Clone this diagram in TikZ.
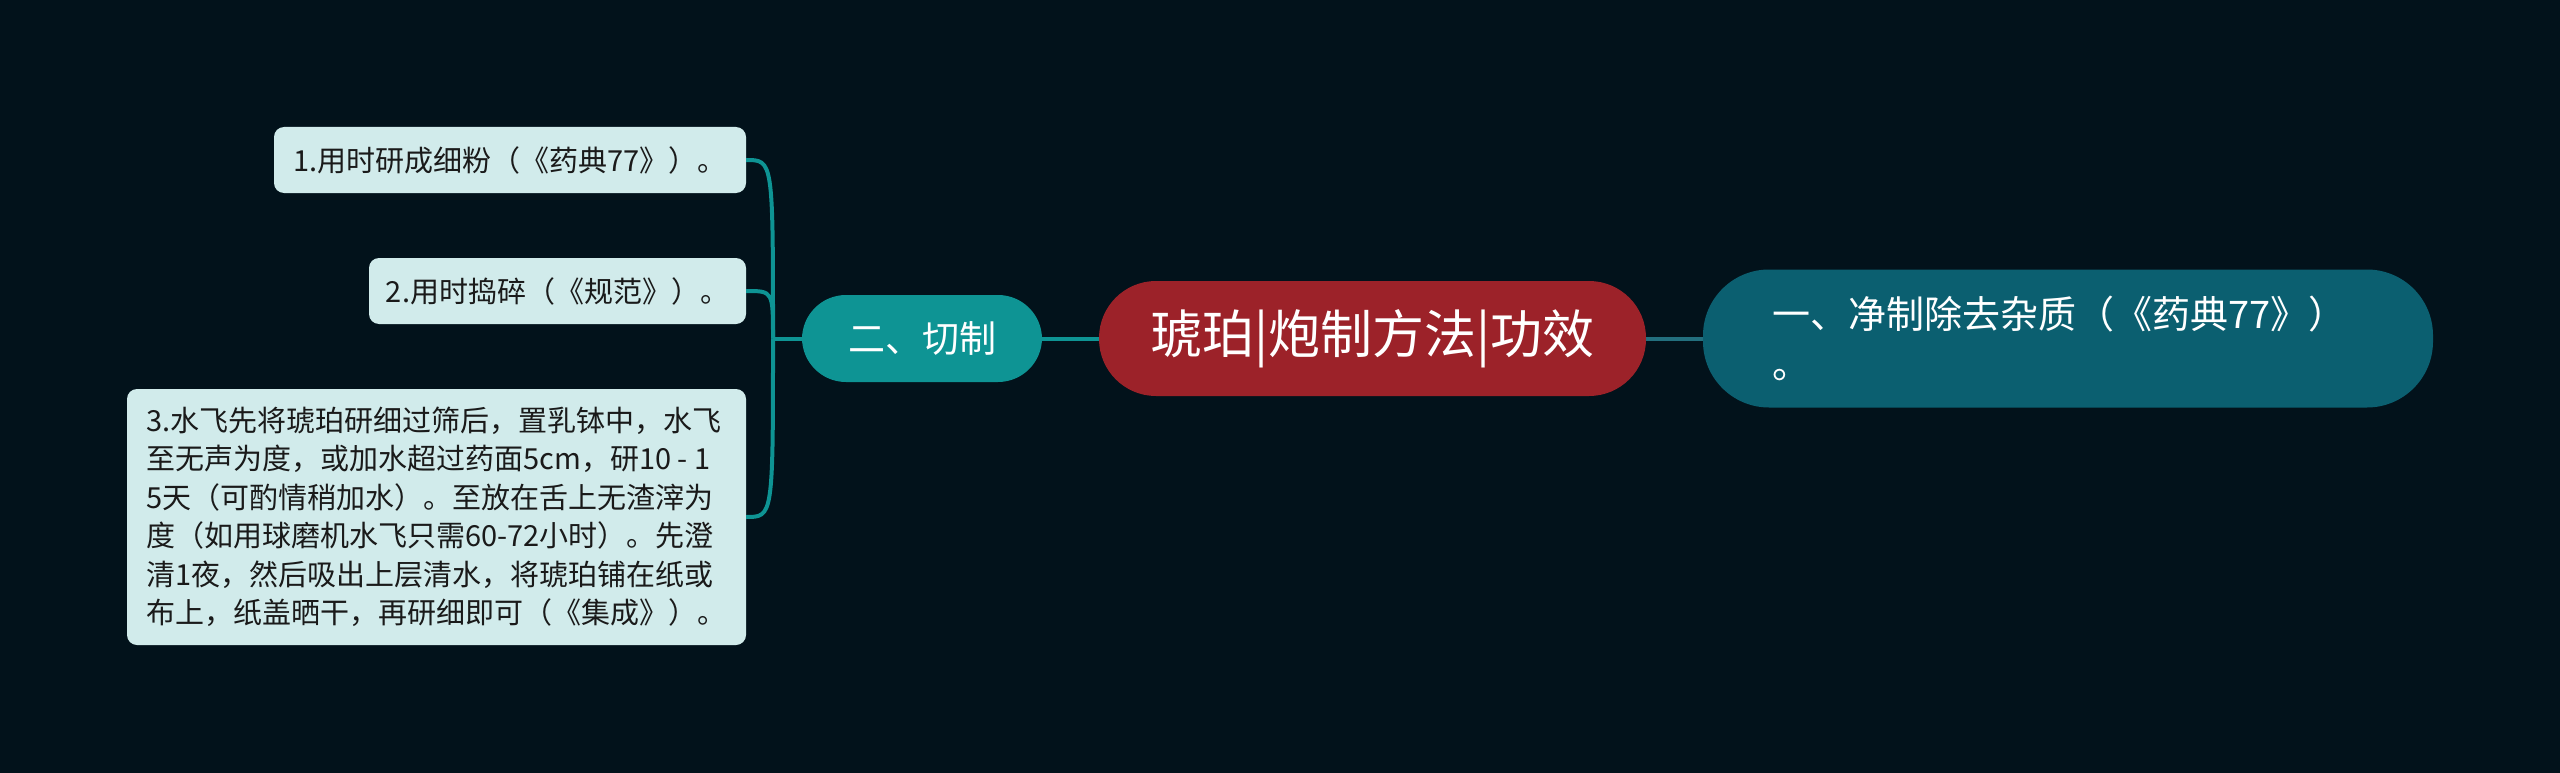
\documentclass[tikz,border=0pt]{standalone}
\usepackage{fontspec}
\setmainfont{Noto Sans CJK SC}

\definecolor{bgnavy}{HTML}{02121B}
\definecolor{rootred}{HTML}{9C2229}
\definecolor{cutteal}{HTML}{0E9494}
\definecolor{cleanblue}{HTML}{0B5F70}
\definecolor{leafpale}{HTML}{D1EBEB}
\definecolor{leafink}{HTML}{1A1A1A}

\begin{document}
\begin{tikzpicture}[x=1pt, y=-1pt,
    root/.style={fill=rootred, text=white, rounded corners=57pt, inner sep=0pt,
        minimum width=547pt, minimum height=115pt, font=\fontsize{52}{60}\selectfont},
    topic/.style={text=white, rounded corners=44pt, inner sep=0pt},
    leaf/.style={fill=leafpale, text=leafink, rounded corners=10pt, inner xsep=16pt,
        inner ysep=0pt, font=\fontsize{29}{38.5}\selectfont},
    branch/.style={draw=cutteal, line width=4pt},
    trunk/.style={draw=cleanblue!90!white, line width=4pt}] % pixel grid, y grows downwards

    % --- Canvas ---
    \fill[bgnavy] (0,0) rectangle (2560,773);
    \useasboundingbox (0,0) rectangle (2560,773);

    % --- Main nodes ---
    \node[root] (root) at (1372.5,338.5) {琥珀|炮制方法|功效};
    \node[topic, fill=cutteal, minimum width=240pt, minimum height=87pt,
        font=\fontsize{37}{44}\selectfont] (cut) at (922,338.5) {二、切制};
    \node[topic, fill=cleanblue, rounded corners=66pt, inner xsep=69pt,
        minimum height=138pt, text width=592pt, align=left,
        font=\fontsize{38}{50}\selectfont] (clean) at (2068,338.5) {一、净制除去杂质（《药典77》）\\。};

    % --- Leaves of the cut branch ---
    \node[leaf, minimum width=472pt, minimum height=66pt] (grind) at (510,160) {1.用时研成细粉（《药典77》）。};
    \node[leaf, minimum width=377pt, minimum height=66pt] (pound) at (557.5,291) {2.用时捣碎（《规范》）。};
    \node[leaf, minimum width=619pt, minimum height=256pt, align=left] (levig) at (436.5,517)
        {3.水飞先将琥珀研细过筛后，置乳钵中，水飞\\
         至无声为度，或加水超过药面5cm，研10 - 1\\
         5天（可酌情稍加水）。至放在舌上无渣滓为\\
         度（如用球磨机水飞只需60-72小时）。先澄\\
         清1夜，然后吸出上层清水，将琥珀铺在纸或\\
         布上，纸盖晒干，再研细即可（《集成》）。};

    % --- Connectors ---
    \draw[trunk] (root.east) -- (clean.west);
    \draw[branch] (root.west) -- (cut.east);

    % fork point of the bracket on the left
    \coordinate (fork) at (773,338.5);
    \draw[branch] (cut.west) -- (fork);
    \foreach \leafname in {grind,pound,levig}
        \draw[branch] (fork) .. controls (fork |- \leafname.east) .. (\leafname.east);

\end{tikzpicture}
\end{document}
